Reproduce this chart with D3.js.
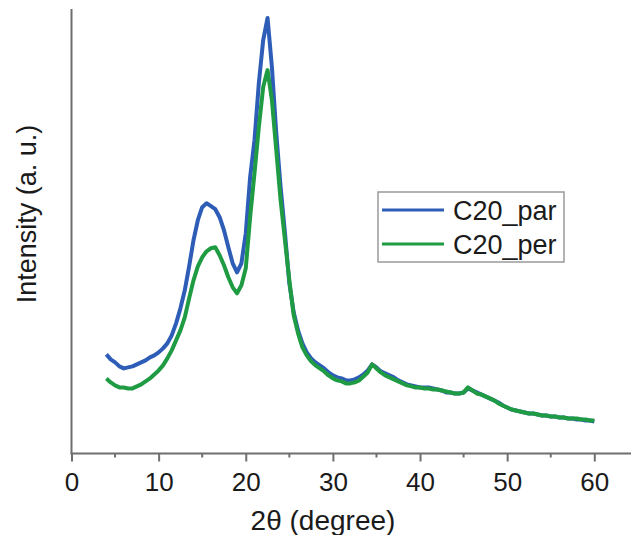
<!DOCTYPE html>
<html>
<head>
<meta charset="utf-8">
<script src="https://cdn.jsdelivr.net/npm/d3@7"></script>
<style>
  body { margin: 0; background: #fff; }
  text { font-family: "Liberation Sans", Arial, sans-serif; fill: #1a1a1a; }
</style>
</head>
<body>
<script>
// 2theta grid (degree), step 0.5 from 4 to 60
var twoTheta = d3.range(4, 60.25, 0.5);

// intensities (a. u.)
var c20Par = [99, 94, 91, 87, 85, 86, 87, 89, 91, 93, 96, 98, 101, 105, 110, 118, 130, 145, 163, 187,
  213, 233, 246, 250, 247, 244, 236, 223, 206, 190, 181, 190, 220, 276, 313, 370, 413, 435, 386, 320,
  266, 220, 170, 141, 123, 110, 101, 95, 91, 88, 85, 81, 78, 76, 75, 73, 73, 74, 76, 79,
  83, 89, 86, 82, 80, 78, 76, 73, 71, 69, 68, 67, 66, 66, 66, 65, 64, 63, 61, 61,
  60, 60, 61, 65, 63, 61, 59, 57, 55, 53, 51, 48, 46, 44, 43, 42, 41, 40, 40, 39,
  38, 38, 37, 37, 36, 36, 35, 35, 34, 34, 33, 33, 32];

var c20Per = [75, 71, 68, 66, 66, 65, 65, 67, 69, 72, 75, 79, 83, 88, 95, 103, 113, 123, 136, 155,
  173, 187, 196, 202, 205, 206, 198, 188, 176, 166, 160, 168, 185, 236, 280, 326, 366, 383, 353, 303,
  253, 213, 173, 138, 120, 106, 98, 92, 88, 85, 82, 78, 75, 73, 72, 70, 70, 71, 73, 77,
  81, 89, 85, 81, 78, 76, 74, 72, 70, 68, 67, 66, 66, 65, 65, 64, 64, 63, 62, 61,
  60, 60, 61, 66, 63, 60, 59, 57, 55, 53, 50, 48, 46, 44, 43, 42, 41, 40, 40, 39,
  38, 38, 37, 37, 36, 36, 35, 35, 35, 34, 34, 33, 33];

var seriesNames = ["C20_par", "C20_per"];
var seriesColors = ["#2d5db6", "#1f9b43"];
var xTicks = [0, 10, 20, 30, 40, 50, 60];
var xMinorTicks = [5, 15, 25, 35, 45, 55];

var W = 631, H = 535;
var x0 = 71.5, yBase = 453.5, yTop = 9;

var svg = d3.select("body").append("svg")
    .attr("width", W)
    .attr("height", H);

var x = d3.scaleLinear().domain([0, 60]).range([x0, 594.3]);
var y = d3.scaleLinear().domain([0, 444]).range([yBase, yTop]);

var series = [c20Par, c20Per];

var line = d3.line()
    .x(function(d, i){ return x(twoTheta[i]); })
    .y(function(d){ return y(d); });

series.forEach(function(s, k){
    svg.append("path")
	.datum(s)
	.attr("d", line)
	.attr("fill", "none")
	.attr("stroke", seriesColors[k])
	.attr("stroke-width", 4)
	.attr("stroke-linejoin", "round");
});

// axes
var axisColor = "#6e6e6e";
svg.append("line")
    .attr("x1", x0).attr("y1", yTop)
    .attr("x2", x0).attr("y2", yBase)
    .attr("stroke", axisColor).attr("stroke-width", 2);

var xAxis = d3.axisBottom(x)
    .tickValues(xTicks)
    .tickSize(8)
    .tickFormat(d3.format("d"));

var gx = svg.append("g")
    .attr("transform", "translate(0," + yBase + ")")
    .call(xAxis);
gx.select(".domain").remove();
gx.selectAll(".tick line").attr("stroke", axisColor).attr("stroke-width", 2);
gx.selectAll(".tick text")
    .attr("y", 37)
    .attr("dy", 0)
    .style("font-size", "26px")
    .style("font-family", "Liberation Sans, Arial, sans-serif")
    .attr("fill", "#1a1a1a");

svg.append("line")
    .attr("x1", x0 - 1).attr("y1", yBase)
    .attr("x2", W).attr("y2", yBase)
    .attr("stroke", axisColor).attr("stroke-width", 2);

svg.selectAll(".minor")
    .data(xMinorTicks)
    .enter().append("line")
    .attr("class", "minor")
    .attr("x1", function(d){ return x(d); })
    .attr("x2", function(d){ return x(d); })
    .attr("y1", yBase)
    .attr("y2", yBase + 4)
    .attr("stroke", axisColor)
    .attr("stroke-width", 2);

// axis titles
svg.append("text")
    .attr("x", 323)
    .attr("y", 530)
    .attr("text-anchor", "middle")
    .style("font-size", "28px")
    .text("2θ (degree)");

svg.append("text")
    .attr("transform", "translate(36,214) rotate(-90)")
    .attr("text-anchor", "middle")
    .style("font-size", "27px")
    .text("Intensity (a. u.)");

// legend
var lg = svg.append("g").attr("transform", "translate(378,192)");
lg.append("rect")
    .attr("width", 186).attr("height", 70)
    .attr("fill", "#fff")
    .attr("stroke", "#9a9a9a")
    .attr("stroke-width", 1.5);

seriesNames.forEach(function(n, k){
    var yy = 18 + k * 34;
    lg.append("line")
	.attr("x1", 4).attr("x2", 66)
	.attr("y1", yy).attr("y2", yy)
	.attr("stroke", seriesColors[k])
	.attr("stroke-width", 3);
    lg.append("text")
	.attr("x", 75)
	.attr("y", yy + 10)
	.style("font-size", "27px")
	.text(n);
});
</script>
</body>
</html>
